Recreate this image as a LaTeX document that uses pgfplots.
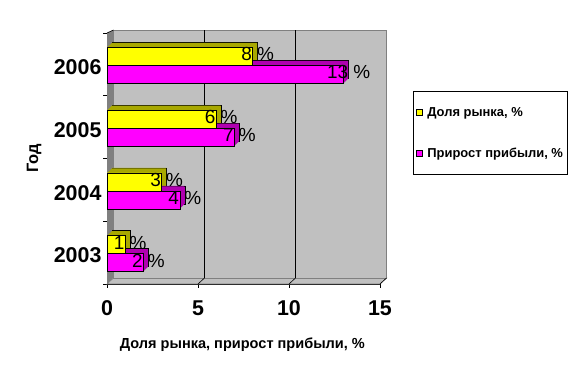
\documentclass[border=0pt]{standalone}
\usepackage{pgfplots}
\usepackage{pgfplotstable}
\pgfplotsset{compat=1.18}
\usepackage{fontspec}
\setmainfont{Liberation Sans}
\definecolor{wall}{HTML}{C0C0C0}
\definecolor{wallside}{HTML}{808080}
\definecolor{yfront}{HTML}{FFFF00}
\definecolor{mfront}{HTML}{FF00FF}
\definecolor{ydark}{HTML}{A8A800}
\definecolor{mdark}{HTML}{B000B0}

\pgfplotstableread{
y share gain
0 1 2
1 3 4
2 6 7
3 8 13
}\datatable

\pgfplotsset{
  mylegend/.style={legend image code/.code={\draw[##1, draw=black, line width=0.5bp] (0bp,-3bp) rectangle (6bp,3bp);}},
  ybase/.style={xbar, bar width=18bp, bar shift=8bp, forget plot},
  mbase/.style={xbar, bar width=18bp, bar shift=-10bp, forget plot},
  lbl/.style={nodes near coords={\pgfmathprintnumber{\pgfplotspointmeta}~\%},
     every node near coord/.append style={anchor=center, xshift=5bp, yshift=#1, font=\fontsize{19}{19}\selectfont, text=black}},
}

\begin{document}
\begin{tikzpicture}
\useasboundingbox (0,0) rectangle (577bp,383bp);
\begin{axis}[
  at={(107bp,99bp)}, anchor=south west,
  scale only axis, width=273bp, height=251bp,
  xmin=0, xmax=15, ymin=-0.5, ymax=3.5,
  clip=false,
  axis x line*=bottom, axis y line*=left,
  x axis line style={-, black, line width=0.6bp},
  y axis line style={-, black, line width=0.6bp},
  xtick={0,5,10,15},
  ytick={-0.5,0.5,1.5,2.5,3.5}, yticklabels={},
  extra y ticks={0,1,2,3}, extra y tick labels={2003,2004,2005,2006},
  extra y tick style={major tick length=0pt, yticklabel style={xshift=-2bp, yshift=-3bp}},
  tick align=outside, major tick length=4bp,
  tick style={black, line width=0.6bp},
  ticklabel style={font=\fontsize{21.5}{21.5}\selectfont\bfseries},
  xticklabel style={yshift=-9bp},
  /pgf/number format/assume math mode=true,
  xlabel={Доля рынка, прирост прибыли, \%},
  xlabel style={at={(axis description cs:0.496,-0.24)}, anchor=center, font=\fontsize{14.6}{14.6}\selectfont\bfseries},
  ylabel={Год},
  ylabel style={at={(axis description cs:-0.267,0.5)}, anchor=center, font=\fontsize{16.5}{16.5}\selectfont\bfseries},
  legend style={at={(axis description cs:1.121,0.767)}, anchor=north west, draw=black, line width=0.6bp,
     font=\fontsize{13}{13}\selectfont\bfseries, inner xsep=2.5bp, inner ysep=13.5bp, row sep=26bp,
     /tikz/every odd column/.append style={column sep=3bp}},
  legend cell align=left,
]
% walls
\fill[wallside] (axis cs:0,-0.5) -- (axis cs:0,3.5) -- ([shift={(6.5bp,3bp)}]axis cs:0,3.5) -- ([shift={(6.5bp,6bp)}]axis cs:0,-0.5) -- cycle;
\filldraw[fill=wall, draw=wallside, line width=0.6bp] (axis cs:0,-0.5) -- (axis cs:15,-0.5) -- ([shift={(6.5bp,6bp)}]axis cs:15,-0.5) -- ([shift={(6.5bp,6bp)}]axis cs:0,-0.5) -- cycle;
\filldraw[fill=wall, draw=wallside, line width=0.6bp] ([shift={(6.5bp,6bp)}]axis cs:0,-0.5) rectangle ([shift={(6.5bp,3bp)}]axis cs:15,3.5);
\draw[black, line width=0.6bp] ([shift={(6.5bp,6bp)}]axis cs:5,-0.5) -- ([shift={(6.5bp,3bp)}]axis cs:5,3.5);
\draw[black, line width=0.6bp] ([shift={(6.5bp,6bp)}]axis cs:10,-0.5) -- ([shift={(6.5bp,3bp)}]axis cs:10,3.5);
\draw[black, line width=0.6bp] (axis cs:5,-0.5) -- ([shift={(6.5bp,6bp)}]axis cs:5,-0.5);
\draw[black, line width=0.6bp] (axis cs:10,-0.5) -- ([shift={(6.5bp,6bp)}]axis cs:10,-0.5);
\draw[black, line width=0.6bp] (axis cs:15,-0.5) -- ([shift={(6.5bp,6bp)}]axis cs:15,-0.5);
\draw[black, line width=0.6bp] (axis cs:0,3.5) -- ([shift={(6.5bp,3bp)}]axis cs:0,3.5);

\addlegendimage{mylegend, fill=yfront}
\addlegendentry{Доля рынка, \%}
\addlegendimage{mylegend, fill=mfront}
\addlegendentry{Прирост прибыли, \%}

% yellow depth
\addplot[ybase, fill=ydark, draw=black, line width=0.5bp, xshift=5bp, yshift=5bp] table[x=share, y=y] {\datatable};
\pgfplotsinvokeforeach{9,8,7,6,5,4,3,2,1}{
  \addplot[ybase, fill=ydark, draw=none, xshift=#1*0.5bp, yshift=#1*0.5bp] table[x=share, y=y] {\datatable};
}
% magenta depth
\addplot[mbase, fill=mdark, draw=black, line width=0.5bp, xshift=5bp, yshift=5bp] table[x=gain, y=y] {\datatable};
\pgfplotsinvokeforeach{9,8,7,6,5,4,3,2,1}{
  \addplot[mbase, fill=mdark, draw=none, xshift=#1*0.5bp, yshift=#1*0.5bp] table[x=gain, y=y] {\datatable};
}
% fronts
\addplot[mbase, fill=mfront, draw=black, line width=0.5bp, lbl=-8bp] table[x=gain, y=y] {\datatable};
\addplot[ybase, fill=yfront, draw=black, line width=0.5bp, lbl=10bp] table[x=share, y=y] {\datatable};
\end{axis}
\end{tikzpicture}
\end{document}
